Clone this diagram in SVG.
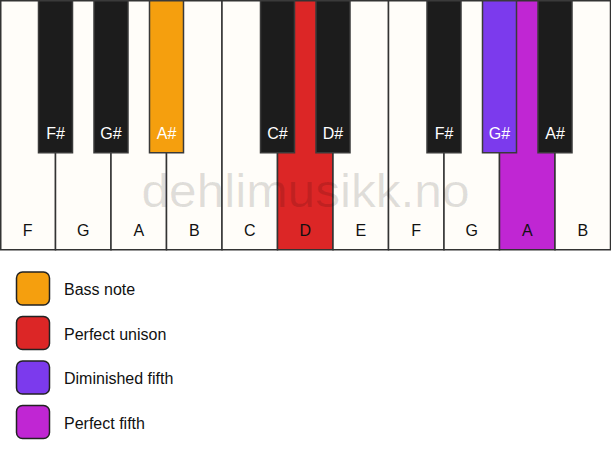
<svg xmlns="http://www.w3.org/2000/svg" width="611" height="461" viewBox="0 0 611 461">
<style>
.w{fill:#fffdf9;stroke:#333;stroke-width:1.5}
.b{fill:#1c1c1c;stroke:#3a3a3a;stroke-width:1.5}
.lw{font-family:"Liberation Sans",Arial,sans-serif;font-size:16px;fill:#111;text-anchor:middle}
.lb{font-family:"Liberation Sans",Arial,sans-serif;font-size:16px;fill:#fff;text-anchor:middle}
.lg{font-family:"Liberation Sans",Arial,sans-serif;font-size:16px;fill:#111}
.sq{stroke:#222;stroke-width:1.5}
.wm{font-family:"Liberation Sans",Arial,sans-serif;font-size:46px;fill:#000;fill-opacity:0.12;text-anchor:middle}
</style>
<rect x="0" y="0" width="611" height="461" fill="#fff"/>
<g id="white-keys">
<g id="key-F1"><rect class="w" x="0.75" y="0.75" width="54.75" height="249"/><text class="lw" x="27.75" y="236">F</text></g>
<g id="key-G1"><rect class="w" x="55.5" y="0.75" width="55.5" height="249"/><text class="lw" x="83.25" y="236">G</text></g>
<g id="key-A1"><rect class="w" x="111" y="0.75" width="55.5" height="249"/><text class="lw" x="138.75" y="236">A</text></g>
<g id="key-B1"><rect class="w" x="166.5" y="0.75" width="55.5" height="249"/><text class="lw" x="194.25" y="236">B</text></g>
<g id="key-C"><rect class="w" x="222" y="0.75" width="55.5" height="249"/><text class="lw" x="249.75" y="236">C</text></g>
<g id="key-D"><rect class="w" x="277.5" y="0.75" width="55.5" height="249" style="fill:#dc2626"/><text class="lw" x="305.25" y="236">D</text></g>
<g id="key-E"><rect class="w" x="333" y="0.75" width="55.5" height="249"/><text class="lw" x="360.75" y="236">E</text></g>
<g id="key-F2"><rect class="w" x="388.5" y="0.75" width="55.5" height="249"/><text class="lw" x="416.25" y="236">F</text></g>
<g id="key-G2"><rect class="w" x="444" y="0.75" width="55.5" height="249"/><text class="lw" x="471.75" y="236">G</text></g>
<g id="key-A2"><rect class="w" x="499.5" y="0.75" width="55.5" height="249" style="fill:#c026d3"/><text class="lw" x="527.25" y="236">A</text></g>
<g id="key-B2"><rect class="w" x="555" y="0.75" width="55.5" height="249"/><text class="lw" x="582.75" y="236">B</text></g>
</g>
<text class="wm" x="305.5" y="207" textLength="328" lengthAdjust="spacingAndGlyphs">dehlimusikk.no</text>
<g id="black-keys">
<g id="key-Fs1"><rect class="b" x="38.5" y="0.75" width="34" height="152"/><text class="lb" x="55.5" y="139">F#</text></g>
<g id="key-Gs1"><rect class="b" x="94" y="0.75" width="34" height="152"/><text class="lb" x="111" y="139">G#</text></g>
<g id="key-As1"><rect class="b" x="149.5" y="0.75" width="34" height="152" style="fill:#f59f0e"/><text class="lb" x="166.5" y="139">A#</text></g>
<g id="key-Cs"><rect class="b" x="260.5" y="0.75" width="34" height="152"/><text class="lb" x="277.5" y="139">C#</text></g>
<g id="key-Ds"><rect class="b" x="316" y="0.75" width="34" height="152"/><text class="lb" x="333" y="139">D#</text></g>
<g id="key-Fs2"><rect class="b" x="427" y="0.75" width="34" height="152"/><text class="lb" x="444" y="139">F#</text></g>
<g id="key-Gs2"><rect class="b" x="482.5" y="0.75" width="34" height="152" style="fill:#7c3aed"/><text class="lb" x="499.5" y="139">G#</text></g>
<g id="key-As2"><rect class="b" x="538" y="0.75" width="34" height="152"/><text class="lb" x="555" y="139">A#</text></g>
</g>
<g id="legend">
<g id="legend-bass"><rect class="sq" x="16.5" y="272" width="33" height="33" rx="6" fill="#f59f0e"/><text class="lg" x="64" y="295">Bass note</text></g>
<g id="legend-unison"><rect class="sq" x="16.5" y="316.5" width="33" height="33" rx="6" fill="#dc2626"/><text class="lg" x="64" y="339.5">Perfect unison</text></g>
<g id="legend-dim5"><rect class="sq" x="16.5" y="361" width="33" height="33" rx="6" fill="#7c3aed"/><text class="lg" x="64" y="384">Diminished fifth</text></g>
<g id="legend-p5"><rect class="sq" x="16.5" y="405.5" width="33" height="33" rx="6" fill="#c026d3"/><text class="lg" x="64" y="428.5">Perfect fifth</text></g>
</g>
<g id="connectors"/>
</svg>
